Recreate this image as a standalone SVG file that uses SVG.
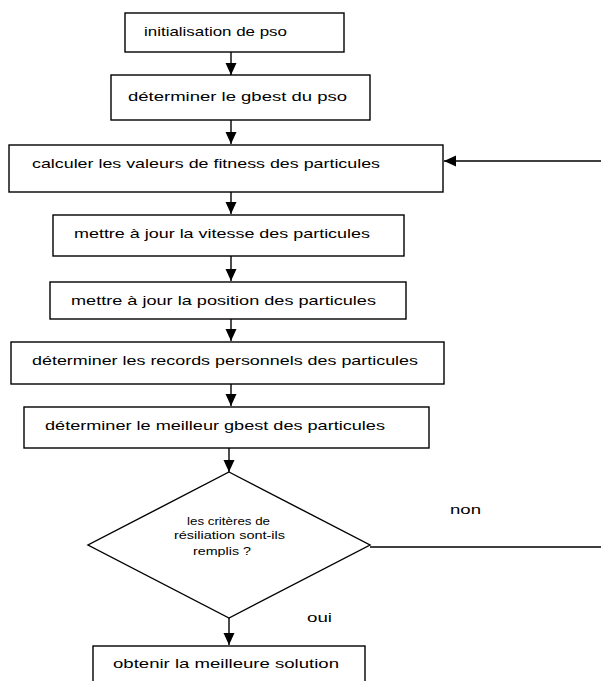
<svg xmlns="http://www.w3.org/2000/svg" width="601" height="681" viewBox="0 0 601 681">
  <style>
    .box { fill: #ffffff; stroke: #000000; stroke-width: 1.4; }
    .lbl { font-family: "Liberation Sans", Arial, sans-serif; font-size: 13px; fill: #000000; }
    .small { font-family: "Liberation Sans", Arial, sans-serif; font-size: 10px; fill: #000000; }
    .wire { fill: none; stroke: #000000; stroke-width: 1.4; }
  </style>
  <defs>
    <marker id="arrow" viewBox="0 0 12 12" refX="12" refY="6" markerWidth="12" markerHeight="12" markerUnits="userSpaceOnUse" orient="auto">
      <path d="M0,0.5 L12,6 L0,11.5 Z" fill="#000000"/>
    </marker>
  </defs>
  <rect width="601" height="681" fill="#ffffff"/>

  <g id="connectors">
    <line class="wire" x1="231" y1="52" x2="231" y2="75" marker-end="url(#arrow)"/>
    <line class="wire" x1="231" y1="120" x2="231" y2="144" marker-end="url(#arrow)"/>
    <line class="wire" x1="231" y1="192" x2="231" y2="214" marker-end="url(#arrow)"/>
    <line class="wire" x1="231" y1="256" x2="231" y2="281" marker-end="url(#arrow)"/>
    <line class="wire" x1="231" y1="319" x2="231" y2="341" marker-end="url(#arrow)"/>
    <line class="wire" x1="231" y1="384" x2="231" y2="406" marker-end="url(#arrow)"/>
    <line class="wire" x1="229" y1="448" x2="229" y2="472" marker-end="url(#arrow)"/>
    <line class="wire" x1="229" y1="618" x2="229" y2="645" marker-end="url(#arrow)"/>
    <line class="wire" x1="370" y1="547" x2="601" y2="547"/>
    <line class="wire" x1="601" y1="161" x2="444" y2="161" marker-end="url(#arrow)"/>
    <text class="lbl" x="450" y="514" textLength="31" lengthAdjust="spacingAndGlyphs">non</text>
    <text class="lbl" x="307" y="622" textLength="25" lengthAdjust="spacingAndGlyphs">oui</text>
  </g>

  <g id="init">
    <rect class="box" x="125" y="13" width="219" height="39"/>
    <text class="lbl" x="144" y="36" textLength="143" lengthAdjust="spacingAndGlyphs">initialisation de pso</text>
  </g>
  <g id="gbest">
    <rect class="box" x="111" y="75" width="259" height="45"/>
    <text class="lbl" x="128" y="101" textLength="219" lengthAdjust="spacingAndGlyphs">déterminer le gbest du pso</text>
  </g>
  <g id="fitness">
    <rect class="box" x="9" y="145" width="434" height="47"/>
    <text class="lbl" x="32" y="168" textLength="348" lengthAdjust="spacingAndGlyphs">calculer les valeurs de fitness des particules</text>
  </g>
  <g id="vitesse">
    <rect class="box" x="53" y="215" width="351" height="41"/>
    <text class="lbl" x="74" y="238" textLength="296" lengthAdjust="spacingAndGlyphs">mettre à jour la vitesse des particules</text>
  </g>
  <g id="position">
    <rect class="box" x="50" y="282" width="356" height="37"/>
    <text class="lbl" x="71" y="305" textLength="305" lengthAdjust="spacingAndGlyphs">mettre à jour la position des particules</text>
  </g>
  <g id="records">
    <rect class="box" x="11" y="342" width="433" height="42"/>
    <text class="lbl" x="32" y="365" textLength="386" lengthAdjust="spacingAndGlyphs">déterminer les records personnels des particules</text>
  </g>
  <g id="meilleur">
    <rect class="box" x="24" y="407" width="405" height="41"/>
    <text class="lbl" x="45" y="430" textLength="340" lengthAdjust="spacingAndGlyphs">déterminer le meilleur gbest des particules</text>
  </g>
  <g id="decision">
    <polygon class="box" points="229,472 370,545 229,618 88,545"/>
    <text class="small" x="187" y="525" textLength="83" lengthAdjust="spacingAndGlyphs">les critères de</text>
    <text class="small" x="174" y="539" textLength="111" lengthAdjust="spacingAndGlyphs">résiliation sont-ils</text>
    <text class="small" x="193" y="555" textLength="58" lengthAdjust="spacingAndGlyphs">remplis ?</text>
  </g>
  <g id="solution">
    <rect class="box" x="93" y="646" width="272" height="45"/>
    <text class="lbl" x="113" y="668" textLength="226" lengthAdjust="spacingAndGlyphs">obtenir la meilleure solution</text>
  </g>
</svg>
